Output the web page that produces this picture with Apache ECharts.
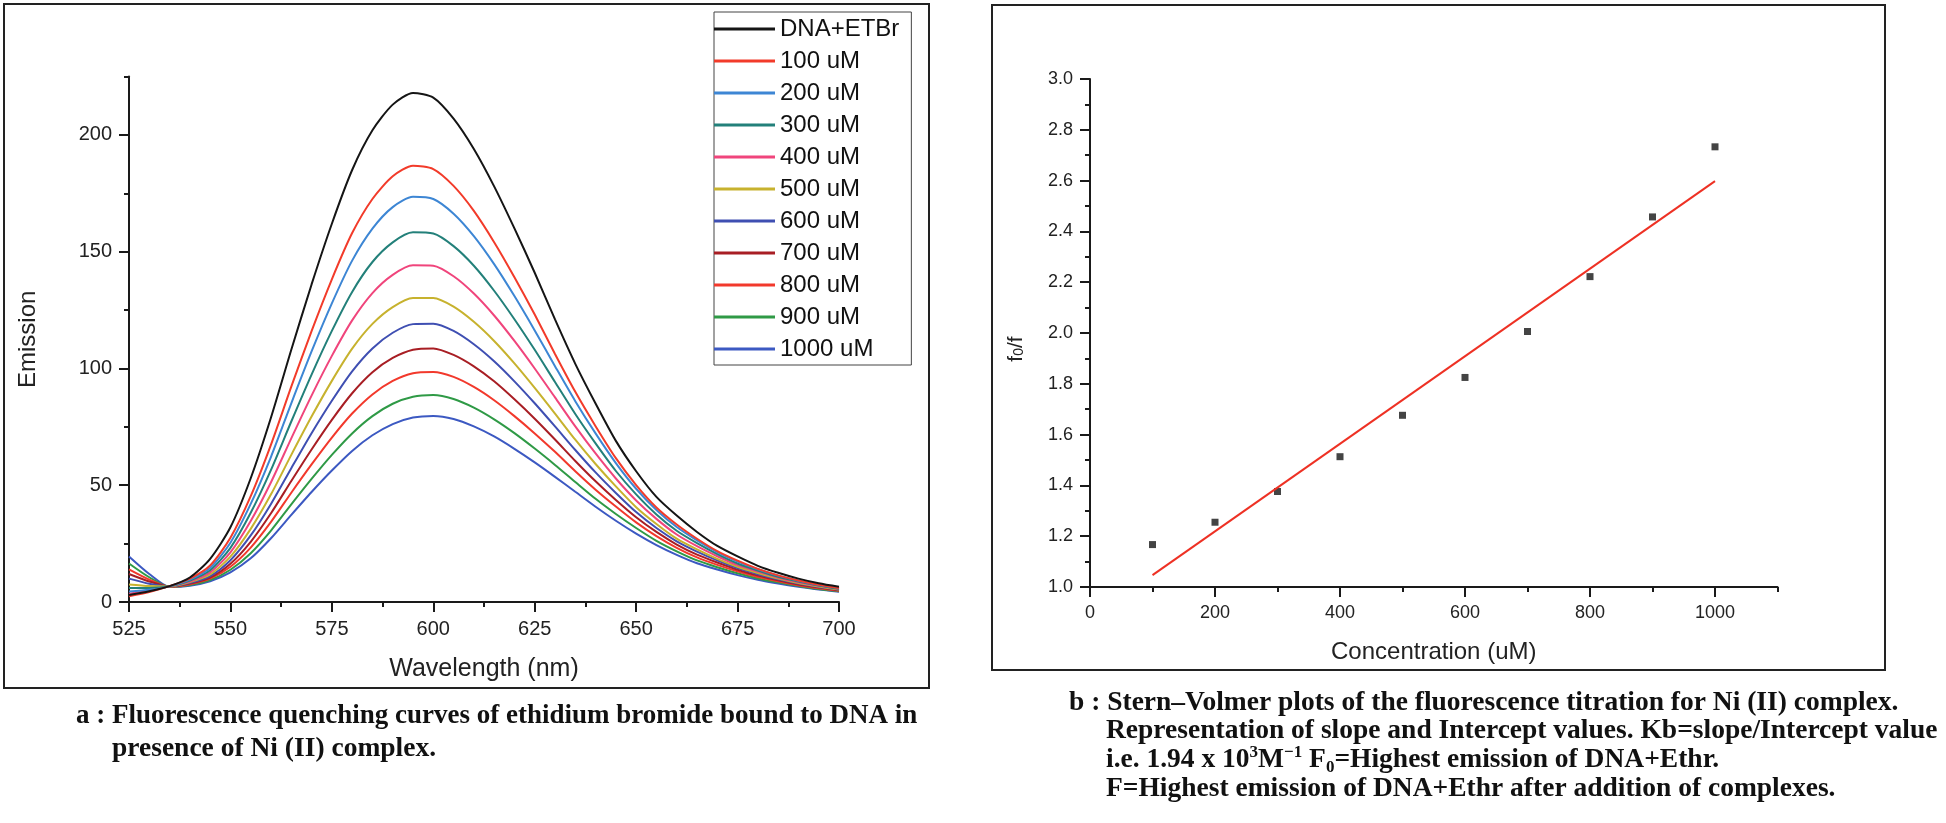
<!DOCTYPE html>
<html>
<head>
<meta charset="utf-8">
<title>EtBr quenching by Ni (II) complex</title>
<script src="https://cdn.jsdelivr.net/npm/echarts@6/dist/echarts.min.js"></script>
<style>
    html, body { margin: 0; padding: 0; background: #fff; }
    #chart { width: 1946px; height: 823px; }
</style>
</head>
<body>
<div id="chart"></div>
<script>
// ---- panel a : emission spectra ----
var wavelengths = [525, 530, 535, 540, 545, 550, 555, 560, 565, 570, 575, 580, 585, 590, 595, 600, 605, 610,
    615, 620, 625, 630, 635, 640, 645, 650, 655, 660, 665, 670, 675, 680, 685, 690, 695, 700];
var spectraNames = ['DNA+ETBr', '100 uM', '200 uM', '300 uM', '400 uM', '500 uM',
    '600 uM', '700 uM', '800 uM', '900 uM', '1000 uM'];
var emDNA = [3.0, 4.6, 6.8, 10.5, 18.5, 32, 53, 79, 108, 136, 162, 185, 202, 213, 218, 216, 207, 194,
    178, 160, 141, 121, 102, 85, 69, 56, 45, 37, 30, 24, 19.5, 15.5, 12.5, 10, 8, 6.5];
var em100 = [2.5, 4.3, 6.8, 10.0, 15.6, 27.5, 45.3, 67.4, 92.2, 116.0, 138.2, 158.0, 172.6, 182.3, 186.8, 185.4, 178.2, 167.5,
    154.1, 139.1, 123.1, 106.2, 90.0, 75.3, 61.6, 50.1, 40.5, 33.2, 27.1, 21.8, 17.7, 14.2, 11.4, 9.2, 7.4, 6.0];
var em200 = [4.5, 5.2, 6.7, 9.6, 14.6, 25.4, 42.0, 62.2, 85.1, 107.3, 127.9, 146.2, 159.9, 169.1, 173.5, 172.6, 166.3, 156.7,
    144.7, 131.0, 116.3, 101.0, 86.0, 72.2, 59.5, 48.5, 39.4, 32.1, 26.4, 21.4, 17.3, 14.0, 11.3, 9.1, 7.3, 6.0];
var em300 = [6.0, 6.0, 6.7, 9.2, 13.6, 23.2, 38.2, 56.6, 77.3, 97.4, 116.1, 132.8, 145.6, 154.0, 158.3, 157.8, 152.4, 144.0,
    133.3, 121.1, 108.0, 94.2, 80.5, 67.9, 56.1, 46.1, 37.5, 30.5, 25.2, 20.5, 16.5, 13.5, 10.8, 8.8, 7.1, 5.7];
var em400 = [3.5, 5.0, 6.7, 8.8, 12.7, 21.3, 34.7, 51.3, 70.1, 88.4, 105.4, 120.6, 132.3, 140.1, 144.2, 144.0, 139.5, 132.1,
    122.7, 111.8, 100.0, 87.6, 75.2, 63.6, 52.9, 43.5, 35.6, 28.9, 23.9, 19.6, 15.8, 13.0, 10.4, 8.5, 6.9, 5.6];
var em500 = [7.5, 6.8, 6.6, 8.5, 11.8, 19.4, 31.3, 46.1, 63.0, 79.4, 94.7, 108.5, 119.1, 126.3, 130.2, 130.2, 126.5, 120.0,
    111.8, 102.2, 91.7, 80.7, 69.5, 59.1, 49.5, 40.6, 33.4, 27.1, 22.5, 18.5, 15.1, 12.4, 10.0, 8.1, 6.6, 5.3];
var em600 = [10.0, 7.8, 6.6, 8.2, 11.1, 17.9, 28.5, 42.0, 57.3, 72.3, 86.2, 98.8, 108.6, 115.3, 119.0, 119.2, 116.1, 110.4,
    103.1, 94.5, 85.1, 75.2, 65.1, 55.5, 46.7, 38.5, 31.7, 26.0, 21.6, 17.8, 14.5, 11.9, 9.7, 7.9, 6.4, 5.2];
var em700 = [12.0, 8.8, 6.6, 7.9, 10.5, 16.4, 25.8, 38.0, 51.8, 65.3, 78.0, 89.4, 98.4, 104.5, 108.0, 108.6, 105.8, 100.9,
    94.5, 86.8, 78.5, 69.6, 60.4, 51.7, 43.7, 36.3, 30.0, 24.6, 20.3, 16.9, 13.8, 11.3, 9.3, 7.5, 6.2, 5.0];
var em800 = [14.0, 9.6, 6.5, 7.6, 10.0, 15.1, 23.3, 34.3, 46.8, 58.9, 70.4, 80.7, 88.9, 94.7, 98.0, 98.5, 96.4, 92.1,
    86.4, 79.6, 72.2, 64.3, 56.0, 48.1, 40.9, 34.1, 28.2, 23.2, 19.1, 15.9, 13.1, 10.7, 8.9, 7.2, 5.9, 4.8];
var em900 = [16.5, 10.6, 6.5, 7.3, 9.4, 13.8, 20.9, 30.6, 41.8, 52.7, 63.0, 72.2, 79.6, 84.9, 87.9, 88.6, 86.9, 83.2,
    78.2, 72.3, 65.7, 58.7, 51.4, 44.2, 37.7, 31.7, 26.2, 21.7, 17.8, 14.9, 12.3, 10.1, 8.4, 6.9, 5.6, 4.6];
var em1000 = [19.5, 12.0, 6.5, 7.0, 8.9, 12.7, 18.7, 27.3, 37.3, 47.1, 56.3, 64.7, 71.4, 76.2, 79.0, 79.7, 78.4, 75.2,
    70.9, 65.6, 59.8, 53.6, 47.2, 40.8, 34.8, 29.3, 24.4, 20.2, 16.6, 13.9, 11.5, 9.5, 7.9, 6.5, 5.3, 4.4];
var spectraColors = ['#151515', '#f23b2a', '#3d86d4', '#23807a', '#f0457c', '#c7b22e',
    '#3f4fb2', '#a81e24', '#f2392c', '#2f9a46', '#3c59c2'];
var wavelengthTicks = [525, 550, 575, 600, 625, 650, 675, 700];
var emissionTicks = [0, 50, 100, 150, 200];

// ---- panel b : Stern-Volmer ----
var concentrations = [100, 200, 300, 400, 500, 600, 700, 800, 900, 1000];
var f0OverF = [1.167, 1.255, 1.376, 1.513, 1.676, 1.825, 2.006, 2.222, 2.457, 2.733];
var fitConc = [100, 1000];
var fitRatio = [1.047, 2.598];
var concTicks = [0, 200, 400, 600, 800, 1000];
var ratioTicks = [1.0, 1.2, 1.4, 1.6, 1.8, 2.0, 2.2, 2.4, 2.6, 2.8, 3.0];

var SANS = '"Liberation Sans", Arial, Helvetica, sans-serif';
var SERIF = '"Liberation Serif", "Times New Roman", serif';
var INK = '#1a1a1a';

var myChart = echarts.init(document.getElementById('chart'));

function plain(v) { return String(v); }

// one axis carries line, short ticks and labels, a twin draws the long ticks
function axisPair(grid, pos, min, max, minorStep, majors, fontSize, fmt, extra) {
    var main = {
        type: 'value', gridIndex: grid, position: pos, min: min, max: max, interval: minorStep,
        axisLine: { show: true, onZero: false, lineStyle: { color: INK, width: 2 } },
        axisTick: { show: true, length: 5, lineStyle: { color: INK, width: 2 } },
        axisLabel: {
            customValues: majors, formatter: fmt || plain, fontSize: fontSize,
            fontFamily: SANS, color: '#222', margin: 17
        },
        splitLine: { show: false }
    };
    for (var k in extra) main[k] = extra[k];
    var twin = {
        type: 'value', gridIndex: grid, position: pos, min: min, max: max,
        axisLine: { show: false, onZero: false },
        axisTick: { show: true, customValues: majors, length: 10, lineStyle: { color: INK, width: 2 } },
        axisLabel: { show: false },
        splitLine: { show: false }
    };
    return [main, twin];
}

var xA = axisPair(0, 'bottom', 525, 700, 12.5, wavelengthTicks, 20, null, {
    name: 'Wavelength (nm)', nameLocation: 'middle', nameGap: 55,
    nameTextStyle: { fontSize: 25, fontFamily: SANS, color: '#222' }
});
var yA = axisPair(0, 'left', 0, 225, 25, emissionTicks, 20, null, {
    name: 'Emission', nameLocation: 'middle', nameGap: 89,
    nameTextStyle: { fontSize: 24, fontFamily: SANS, color: '#222' }
});
var xB = axisPair(1, 'bottom', 0, 1100, 100, concTicks, 18, null, {
    name: 'Concentration (uM)', nameLocation: 'middle', nameGap: 53,
    nameTextStyle: { fontSize: 24, fontFamily: SANS, color: '#222' }
});
var yB = axisPair(1, 'left', 1.0, 3.0, 0.1, ratioTicks, 18, function (v) { return v.toFixed(1); }, {});

var spectra = [emDNA, em100, em200, em300, em400, em500, em600, em700, em800, em900, em1000];
var series = [];
spectra.forEach(function (arr, i) {
    series.push({
        name: spectraNames[i],
        type: 'line',
        xAxisIndex: 0, yAxisIndex: 0,
        data: wavelengths.map(function (w, j) { return [w, arr[j]]; }),
        smooth: 0.25,
        showSymbol: false,
        lineStyle: { color: spectraColors[i], width: 2 },
        itemStyle: { color: spectraColors[i] },
        z: 20 - i
    });
});
series.push({
    name: 'fit', type: 'line', xAxisIndex: 2, yAxisIndex: 2,
    data: fitConc.map(function (c, i) { return [c, fitRatio[i]]; }),
    showSymbol: false,
    lineStyle: { color: '#ee3124', width: 2 }
});
series.push({
    name: 'f0/f', type: 'scatter', xAxisIndex: 2, yAxisIndex: 2,
    data: concentrations.map(function (c, i) { return [c, f0OverF[i]]; }),
    symbol: 'rect', symbolSize: 7,
    itemStyle: { color: '#151515' }
});

function caption(x, y, text, size, rich) {
    var st = {
        text: text, x: 0, y: 0, fill: '#111',
        font: 'bold ' + size + 'px ' + SERIF, verticalAlign: 'middle', align: 'left'
    };
    if (rich) st.rich = rich;
    return { type: 'text', x: x, y: y, silent: true, style: st };
}
var scriptStyle = {
    sup: { fontSize: 17, fontWeight: 'bold', fontFamily: SERIF, fill: '#111', verticalAlign: 'top', lineHeight: 17 },
    sub: { fontSize: 17, fontWeight: 'bold', fontFamily: SERIF, fill: '#111', verticalAlign: 'bottom', lineHeight: 17 },
    base: { fontSize: 27.5, fontWeight: 'bold', fontFamily: SERIF, fill: '#111', lineHeight: 32 }
};

var option = {
    backgroundColor: '#fff',
    animation: false,
    grid: [
        { left: 129, top: 76.6, width: 710, height: 525.4 },
        { left: 1090, top: 79, width: 687.5, height: 508 }
    ],
    xAxis: xA.concat(xB),
    yAxis: yA.concat(yB),
    legend: {
        data: spectraNames,
        orient: 'vertical',
        left: 714, top: 12,
        icon: 'rect',
        itemWidth: 61, itemHeight: 3, itemGap: 8,
        selectedMode: false,
        borderColor: '#444', borderWidth: 1,
        padding: [5, 12, 4, 0],
        textStyle: { fontSize: 24, lineHeight: 24, fontFamily: SANS, color: '#111' }
    },
    series: series,
    graphic: [
        { type: 'rect', silent: true, shape: { x: 4, y: 4, width: 925, height: 684 },
          style: { fill: 'none', stroke: '#222', lineWidth: 2 } },
        { type: 'rect', silent: true, shape: { x: 992, y: 5, width: 893, height: 665 },
          style: { fill: 'none', stroke: '#222', lineWidth: 2 } },
        // y title of panel b, with subscript
        { type: 'text', x: 1016, y: 349, rotation: Math.PI / 2, silent: true,
          style: {
              text: 'f{sub|0}/f', fill: '#222', font: '21px ' + SANS, align: 'center', verticalAlign: 'middle',
              rich: { sub: { fontSize: 14, fontFamily: SANS, fill: '#222', verticalAlign: 'bottom', lineHeight: 14 } }
          } },
        caption(76, 716, 'a : Fluorescence quenching curves of ethidium bromide bound to DNA in', 27),
        caption(112, 749, 'presence of Ni (II) complex.', 27.5),
        caption(1069, 703, 'b : Stern\u2013Volmer plots of the fluorescence titration for Ni (II) complex.', 27.5),
        caption(1106, 731, 'Representation of slope and Intercept values. Kb=slope/Intercept value', 27.5),
        caption(1106, 760, '{base|i.e. 1.94 x 10}{sup|3}{base|M}{sup|\u22121}{base| F}{sub|0}{base|=Highest emission of DNA+Ethr.}', 27.5, scriptStyle),
        caption(1106, 789, 'F=Highest emission of DNA+Ethr after addition of complexes.', 27.5)
    ]
};

myChart.setOption(option);
</script>
</body>
</html>
